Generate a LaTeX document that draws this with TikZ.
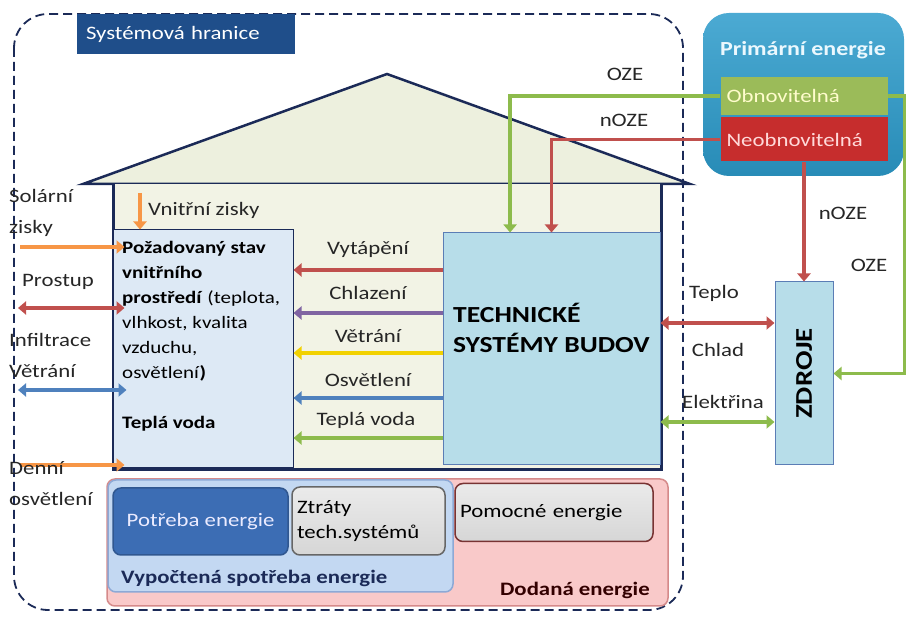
\documentclass[tikz,border=0pt]{standalone}
\usepackage{fontspec}
\setmainfont{Carlito}[FakeStretch=1.2]
\usetikzlibrary{positioning,arrows.meta,calc}
\definecolor{navyln}{HTML}{1B2A57}
\definecolor{hrfill}{HTML}{1F4E8A}
\definecolor{rooffill}{HTML}{EDF0DE}
\definecolor{bodyfill}{HTML}{F2F3E5}
\definecolor{stavfill}{HTML}{DDE9F5}
\definecolor{tsbfill}{HTML}{B7DDE9}
\definecolor{tsbdraw}{HTML}{5B7DB5}
\definecolor{primfill}{HTML}{2C9BCB}
\definecolor{obnfill}{HTML}{9BBB59}
\definecolor{neofill}{HTML}{C62D2D}
\definecolor{ared}{HTML}{C0504D}
\definecolor{apurple}{HTML}{8064A2}
\definecolor{ayellow}{HTML}{F2D100}
\definecolor{ablue}{HTML}{4F81BD}
\definecolor{agreen}{HTML}{8DBB4C}
\definecolor{aorange}{HTML}{F79646}
\definecolor{dodfill}{HTML}{F9C9C9}
\definecolor{doddraw}{HTML}{D58A8A}
\definecolor{vypfill}{HTML}{C3D8F2}
\definecolor{vypdraw}{HTML}{8DA9D6}
\definecolor{potfill}{HTML}{3C6DB4}
\definecolor{greyfill}{HTML}{D6D6D6}

\begin{document}
\begin{tikzpicture}[
  x=1pt, y=-1pt,
  lbl/.style={font=\fontsize{19}{21}\selectfont, text=black!85, inner sep=0pt},
  flow/.style={line width=3.5pt, -{Triangle[length=8pt,width=13pt]}},
  flow2/.style={line width=3.5pt, {Triangle[length=8pt,width=13pt]}-{Triangle[length=8pt,width=13pt]}},
  pipe/.style={line width=3pt},
  box/.style={draw=tsbdraw, line width=1pt, fill=tsbfill, inner sep=0pt},
  energy/.style={rounded corners=8pt, line width=1.5pt, inner sep=0pt, align=left},
  greybox/.style={energy, top color=white!92!black, bottom color=greyfill},
]
\useasboundingbox (0,0) rectangle (906,617);

% ==================== system boundary ====================
\draw[navyln, line width=1.8pt, dash pattern=on 9pt off 5pt, rounded corners=34pt]
  (14,14) rectangle (683,610);
\node[fill=hrfill, text=white, minimum width=218pt, minimum height=40pt, inner ysep=0pt,
      inner xsep=9pt, text width=200pt, align=left,
      font=\fontsize{19}{21}\selectfont] (hr) at (186,34) {Systémová hranice};

% ==================== house ====================
\filldraw[fill=rooffill, draw=navyln, line width=2.5pt, line join=miter]
  (83,184) -- (387,74) -- (690,184) -- cycle;
\fill[bodyfill] (113,184) rectangle (661,470);
\draw[navyln, line width=3pt] (113,184) -- (113,470) -- (661,470) -- (661,184);

\node[draw=navyln, line width=1pt, fill=stavfill, minimum width=180pt, minimum height=238pt,
      inner sep=0pt] (stav) at (203,349) {};
\node[anchor=north west, align=left, inner sep=0pt,
      font=\fontsize{17.5}{25}\selectfont] (stavtxt) at (122,241)
  {\textbf{Požadovaný stav}\\ \textbf{vnitřního}\\ \textbf{prostředí} (teplota,\\
   vlhkost, kvalita\\ vzduchu,\\ osvětlení\textbf{)}};
\node[anchor=north west, inner sep=0pt, font=\fontsize{17.5}{19}\bfseries\selectfont]
  (voda) at (122,416) {Teplá voda};

\node[box, minimum width=217pt, minimum height=232pt] (tsb) at (551.5,349) {};
\node[anchor=north west, align=left, inner sep=0pt,
      font=\fontsize{23}{30}\bfseries\selectfont] (tsbtxt) at (453,303)
  {TECHNICKÉ\\ SYSTÉMY BUDOV};

\node[box, minimum width=58pt, minimum height=183pt] (zdroje) at (804,373.5) {};
\node[rotate=90, font=\fontsize{24}{26}\bfseries\selectfont] at (zdroje) {ZDROJE};

% ==================== primary energy ====================
\node[top color=primfill!85!white, bottom color=primfill!90!black, rounded corners=26pt,
      minimum width=201pt, minimum height=163pt, inner sep=0pt] (prim) at (803.5,94.5) {};
\node[text=white!92!cyan, font=\fontsize{20}{22}\bfseries\selectfont] (primtxt) at (803,50)
  {Primární energie};
\node[fill=obnfill, minimum width=167pt, minimum height=38pt, inner ysep=0pt,
      inner xsep=6pt, text width=155pt, align=left,
      text=white!80!yellow, font=\fontsize{19}{21}\selectfont] (obn) at (804,96)
  {Obnovitelná};
\node[fill=neofill, minimum width=167pt, minimum height=44pt, inner ysep=0pt,
      inner xsep=6pt, text width=155pt, align=left,
      text=white!85!red, font=\fontsize{19}{21}\selectfont] (neo) at (804,139.5)
  {Neobnovitelná};

% ==================== supply lines ====================
\draw[pipe, agreen, flow] (obn.west) -| ($(tsb.north west)!0.31!(tsb.north east)$);
\draw[pipe, ared, flow] (neo.west) -| (tsb.north);
\node[lbl] at (625,74) {OZE};
\node[lbl] at (624,120) {nOZE};
\draw[pipe, ared, flow] (neo.south) -- (zdroje.north);
\node[lbl] at (843,213) {nOZE};
\coordinate (okraj) at (905,96);
\draw[pipe, agreen, flow] (obn.east) -- (okraj) |- (zdroje.east);
\node[lbl] at (869,265) {OZE};

\draw[flow2, ared] (tsb.east |- 0,323) -- (zdroje.west |- 0,323);
\node[lbl] at (714,293) {Teplo};
\node[lbl] at (718,350) {Chlad};
\draw[flow2, agreen] (tsb.east |- 0,422) -- (zdroje.west |- 0,422);
\node[lbl] at (723,402) {Elektřina};

% ==================== distribution into the room ====================
\draw[flow, ared]    (tsb.west |- 0,270) -- (stav.east |- 0,270);
\node[lbl] at (368,250) {Vytápění};
\draw[flow, apurple] (tsb.west |- 0,313) -- (stav.east |- 0,313);
\node[lbl] at (368,293) {Chlazení};
\draw[flow, ayellow] (tsb.west |- 0,353) -- (stav.east |- 0,353);
\node[lbl] at (368,336) {Větrání};
\draw[flow, ablue]   (tsb.west |- 0,398) -- (stav.east |- 0,398);
\node[lbl] at (368,380) {Osvětlení};
\draw[flow, agreen]  (tsb.west |- 0,438) -- (stav.east |- 0,438);
\node[lbl] at (366,420) {Teplá voda};

% ==================== exchange with outside ====================
\coordinate (sol) at (20,247);
\coordinate (pro) at (18,308);
\coordinate (inf) at (18,390);
\coordinate (den) at (20,465);
\draw[flow, aorange] (sol) -- ($(stav.west |- sol)+(12,0)$);
\node[lbl, anchor=north west, align=left, font=\fontsize{19}{31}\selectfont] at (9,189)
  {Solární\\zisky};
\draw[flow2, ared] (pro) -- ($(stav.west |- pro)+(12,0)$);
\node[lbl, anchor=west] at (22,282) {Prostup};
\draw[flow2, ablue] (inf) -- ($(stav.west |- inf)+(14,0)$);
\node[lbl, anchor=north west, align=left, font=\fontsize{19}{31}\selectfont] at (9,333)
  {Infiltrace\\Větrání};
\draw[flow, aorange] (den) -- ($(stav.west |- den)+(12,0)$);
\node[lbl, anchor=north west, align=left, font=\fontsize{19}{31}\selectfont] at (9,461)
  {Denní\\osvětlení};

\coordinate (vnz) at (140,193);
\draw[flow, aorange] (vnz) -- (vnz |- stav.north);
\node[lbl, anchor=west] at (148,210) {Vnitřní zisky};

% ==================== energy balance ====================
\node[energy, fill=dodfill, draw=doddraw, minimum width=561pt, minimum height=127pt]
  (dod) at (387.5,542.5) {};
\node[energy, fill=vypfill, draw=vypdraw, minimum width=345pt, minimum height=112pt]
  (vyp) at (280.5,536) {};
\node[energy, fill=potfill, draw=potfill!80!black, minimum width=175pt, minimum height=67pt,
      text=white!92!blue, font=\fontsize{19}{21}\selectfont] (pot) at (200.5,521.5) {Potřeba energie};
\node[greybox, draw=black!60, minimum width=153pt, minimum height=68pt,
      text width=143pt, font=\fontsize{19}{25}\selectfont] (ztr) at (368.5,521)
  {Ztráty\\tech.systémů};
\node[greybox, draw=black!55!red!60!gray, minimum width=198pt, minimum height=58pt,
      text width=188pt, font=\fontsize{19}{21}\selectfont] (pom) at (554,512.5) {Pomocné energie};
\node[anchor=west, inner sep=0pt, text=navyln, font=\fontsize{19}{21}\bfseries\selectfont]
  (vyptxt) at (121,578) {Vypočtená spotřeba energie};
\node[anchor=east, inner sep=0pt, text=black!80!red, font=\fontsize{19}{21}\bfseries\selectfont]
  (dodtxt) at (650,590) {Dodaná energie};

\end{tikzpicture}
\end{document}
